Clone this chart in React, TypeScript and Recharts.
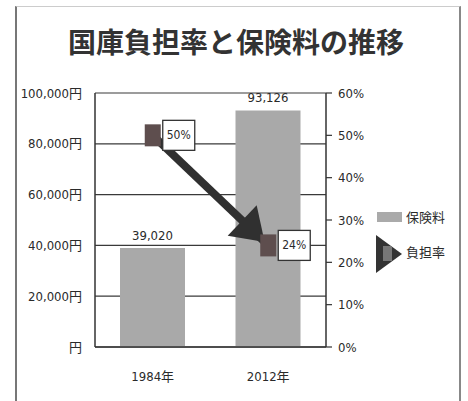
import React from 'react';
import {
  ComposedChart,
  Bar,
  Line,
  XAxis,
  YAxis,
  CartesianGrid,
  LabelList,
} from 'recharts';

const categories = ['1984年', '2012年'];
const premiums = [39020, 93126];
const burdenRates = [50, 24];
const leftTicks = [0, 20000, 40000, 60000, 80000, 100000];
const rightTicks = [0, 10, 20, 30, 40, 50, 60];
const seriesNames = ['保険料', '負担率'];
const title = '国庫負担率と保険料の推移';

const data = categories.map((c, i) => ({
  year: c,
  premium: premiums[i],
  rate: burdenRates[i],
}));

const FONT = '"Liberation Sans Narrow", "DejaVu Sans Condensed", "Noto Sans CJK JP", sans-serif';
const TEXT = '#2a2a2a';

let prevPoint: { x: number; y: number } | null = null;

const RateDot = (props: any) => {
  const { cx, cy, index, value, points } = props;
  if (cx == null || cy == null) return null;
  let arrow: React.ReactNode = null;
  if (index === 0) {
    prevPoint = { x: cx, y: cy };
  } else {
    const p0 = (points && points[index - 1]) || prevPoint;
    if (p0) {
      const dx = cx - p0.x;
      const dy = cy - p0.y;
      const len = Math.sqrt(dx * dx + dy * dy) || 1;
      const ux = dx / len;
      const uy = dy / len;
      const tipX = cx - ux * 5;
      const tipY = cy - uy * 5;
      const bx = tipX - ux * 31;
      const by = tipY - uy * 31;
      const nx = -uy;
      const ny = ux;
      const hw = 21;
      arrow = (
        <polygon
          points={`${tipX},${tipY} ${bx + nx * hw},${by + ny * hw} ${bx - nx * hw},${by - ny * hw}`}
          fill="#303030"
        />
      );
    }
  }
  return (
    <g key={`dot-${index}`}>
      {arrow}
      <rect x={cx - 8} y={cy - 11} width={16} height={22} fill="#5e4e4e" />
      <rect x={cx + 10} y={cy - 15} width={32} height={30} fill="#fff" stroke="#333" strokeWidth={1.3} />
      <text
        x={cx + 26}
        y={cy}
        textAnchor="middle"
        dominantBaseline="central"
        fontSize={12}
        fontFamily={FONT}
        fill={TEXT}
      >
        {`${value}%`}
      </text>
    </g>
  );
};

const LegendBox = () => (
  <svg width={90} height={80} style={{ position: 'absolute', left: 374, top: 200 }}>
    <rect x={3} y={12} width={25} height={10} fill="#aaaaaa" />
    <text x={32} y={17} dominantBaseline="central" fontSize={13} fontFamily={FONT} fill={TEXT}>
      {seriesNames[0]}
    </text>
    <polygon points="2,35 2,73 28,54" fill="#333" />
    <rect x={9} y={46} width={9} height={15} fill="#777" />
    <text x={32} y={52} dominantBaseline="central" fontSize={13} fontFamily={FONT} fill={TEXT}>
      {seriesNames[1]}
    </text>
  </svg>
);

export default function App() {
  return (
    <div
      style={{
        position: 'absolute',
        left: 0,
        top: 0,
        width: 468,
        height: 401,
        background: '#fff',
        overflow: 'hidden',
      }}
    >
      <div
        style={{
          position: 'absolute',
          left: 15,
          top: 6,
          width: 442,
          height: 420,
          borderLeft: '2px solid #777',
          borderRight: '2px solid #888',
          borderTop: '1px solid #ccc',
        }}
      />
      <div
        style={{
          position: 'absolute',
          left: -2,
          top: 23,
          width: 476,
          textAlign: 'center',
          fontFamily: '"Noto Sans CJK JP", sans-serif',
          fontWeight: 700,
          fontSize: 28,
          lineHeight: '36px',
          color: '#333',
        }}
      >
        {title}
      </div>
      <div style={{ position: 'absolute', left: 0, top: 0 }}>
        <ComposedChart
          width={468}
          height={401}
          data={data}
          margin={{ top: 93, right: 92, bottom: 24, left: 0 }}
        >
          <CartesianGrid yAxisId="left" vertical={false} stroke="#3a3a3a" strokeWidth={1.2} />
          <XAxis
            dataKey="year"
            axisLine={{ stroke: '#333', strokeWidth: 1.5 }}
            tickLine={false}
            tickSize={6}
            tickMargin={19}
            height={30}
            tick={{ fill: TEXT, fontSize: 13, fontFamily: FONT }}
          />
          <YAxis
            yAxisId="left"
            width={95}
            domain={[0, 100000]}
            ticks={leftTicks}
            interval={0}
            tickFormatter={(v: number) => (v === 0 ? '円' : `${v.toLocaleString('en-US')}円`)}
            axisLine={{ stroke: '#333', strokeWidth: 1.5 }}
            tickLine={false}
            tickSize={6}
            tickMargin={7}
            tick={{ fill: TEXT, fontSize: 13, fontFamily: FONT }}
          />
          <YAxis
            yAxisId="right"
            orientation="right"
            width={50}
            domain={[0, 60]}
            ticks={rightTicks}
            interval={0}
            tickFormatter={(v: number) => `${v}%`}
            axisLine={{ stroke: '#333', strokeWidth: 1.5 }}
            tickLine={{ stroke: '#333', strokeWidth: 1.2 }}
            tickSize={6}
            tickMargin={6}
            tick={{ fill: TEXT, fontSize: 13, fontFamily: FONT }}
          />
          <Bar
            yAxisId="left"
            dataKey="premium"
            name={seriesNames[0]}
            fill="#a9a9a9"
            barSize={65}
            isAnimationActive={false}
          >
            <LabelList
              dataKey="premium"
              position="top"
              offset={8}
              formatter={(v: any) => Number(v).toLocaleString('en-US')}
              style={{ fill: TEXT, fontSize: 13, fontFamily: FONT }}
            />
          </Bar>
          <Line
            yAxisId="right"
            dataKey="rate"
            name={seriesNames[1]}
            stroke="#303030"
            strokeWidth={8}
            dot={<RateDot />}
            activeDot={false}
            isAnimationActive={false}
          />
        </ComposedChart>
      </div>
      <LegendBox />
    </div>
  );
}
